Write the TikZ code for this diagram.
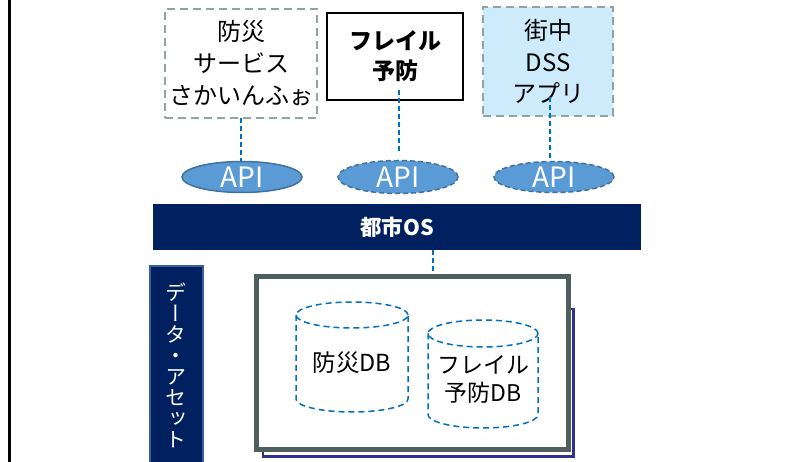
\documentclass[tikz,border=0pt]{standalone}
\usepackage{fontspec}
\setmainfont{Noto Sans CJK JP}
\newfontfamily\vjp[RawFeature=+vert]{Noto Sans CJK JP}
\usetikzlibrary{shapes.geometric}
\definecolor{navy}{HTML}{002060}
\definecolor{gborder}{HTML}{91A3A3}
\definecolor{lblue}{HTML}{CDEBFB}
\definecolor{apifill}{HTML}{5B9BD5}
\definecolor{apiline}{HTML}{41719C}
\definecolor{conn}{HTML}{0070C0}
\definecolor{mainbox}{HTML}{4F5F5E}
\definecolor{backbox}{HTML}{2E3192}
\definecolor{barline}{HTML}{3A5F9A}
\tikzset{
  appbox/.style={draw=gborder, line width=2pt, dash pattern=on 8pt off 5pt, align=center, inner sep=0pt},
  apinode/.style={ellipse, fill=apifill, draw=apiline, line width=1.5pt, minimum width=120pt, minimum height=31pt, inner sep=0pt, text=white, font=\fontsize{28}{28}\selectfont},
  connline/.style={draw=conn, line width=1.5pt, dash pattern=on 5pt off 3pt},
  dbline/.style={draw=conn, line width=1.5pt, dash pattern=on 6pt off 4pt},
}
\begin{document}
\begin{tikzpicture}[x=1pt,y=1pt]
\useasboundingbox (0,0) rectangle (807,-462);
% left border line
\coordinate (lt) at (9.3,0);
\coordinate (lb) at (9.3,-462);
\draw[line width=2.5pt] (lt) -- (lb);
% top boxes
\node[appbox, minimum width=152pt, minimum height=109pt, font=\fontsize{24}{32}\selectfont] (box1) at (241,-63.5) {防災\\サービス\\さかいんふぉ};
\node[draw=black, line width=1.5pt, minimum width=136pt, minimum height=87pt, align=center, inner sep=0pt, font=\bfseries\fontsize{23}{30}\selectfont] (box2) at (395,-56.5) {フレイル\\予防};
\node[appbox, fill=lblue, minimum width=130pt, minimum height=109pt, font=\fontsize{24}{31.5}\selectfont] (box3) at (548,-61.5) {街中\\DSS\\アプリ};
% API ellipses
\node[apinode] (api1) at (242,-177) {API};
\node[apinode, dash pattern=on 5pt off 3pt, minimum height=33pt] (api2) at (398,-177) {API};
\node[apinode, dash pattern=on 5pt off 3pt] (api3) at (554,-177) {API};
% connectors
\coordinate (b1) at (241,-118);
\coordinate (a1) at (241,-161.5);
\draw[connline] (b1) -- (a1);
\coordinate (b2) at (399,-90);
\coordinate (a2) at (399,-152);
\draw[connline] (b2) -- (a2);
\coordinate (b3) at (550,-97);
\coordinate (a3) at (550,-158);
\draw[connline] (b3) -- (a3);
% city OS bar
\node[fill=navy, minimum width=488pt, minimum height=46pt, inner sep=0pt] (os) at (397,-227) {};
\node[text=white, font=\bfseries\fontsize{21.5}{21.5}\selectfont] (ostext) at (397,-227) {都市OS};
% data asset bar
\node[fill=navy, draw=barline, line width=2pt, minimum width=53pt, minimum height=210pt, inner sep=0pt, anchor=north west] (dbar) at (149,-265) {};
\node[text=white, align=center, inner sep=0pt, font=\vjp\fontsize{21}{21}\selectfont] (dtext) at (175.5,-365) {デ\\ー\\タ\\・\\ア\\セ\\ッ\\ト};
% back and main boxes
\coordinate (bk1) at (263,-309);
\coordinate (bk2) at (573.5,-456.5);
\draw[draw=backbox, line width=2.5pt] (bk1) rectangle (bk2);
\node[draw=mainbox, fill=white, line width=5pt, minimum width=311.5pt, minimum height=173.5pt, inner sep=0pt] (main) at (412.25,-363.25) {};
\coordinate (oc) at (433,-250);
\coordinate (mc) at (433,-274);
\draw[connline] (oc) -- (mc);
% cylinders
\draw[dbline] (352,-315) ellipse [x radius=56, y radius=13];
\draw[dbline] (296,-315) -- (296,-399) arc[start angle=180, end angle=360, x radius=56, y radius=13] -- (408,-315);
\node[font=\fontsize{23.5}{23.5}\selectfont] (db1) at (352,-363) {防災DB};
\draw[dbline] (483,-333.5) ellipse [x radius=55, y radius=13.5];
\draw[dbline] (428,-333.5) -- (428,-414.5) arc[start angle=180, end angle=360, x radius=55, y radius=13.5] -- (538,-333.5);
\node[align=center, font=\fontsize{23}{28}\selectfont] (db2) at (483,-379) {フレイル\\予防DB};
\end{tikzpicture}
\end{document}
